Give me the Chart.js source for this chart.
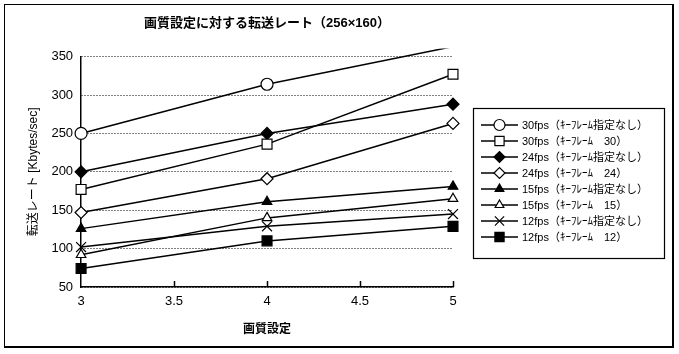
<!DOCTYPE html>
<html>
<head>
<meta charset="utf-8">
<script src="https://cdn.jsdelivr.net/npm/chart.js@4.4.0/dist/chart.umd.min.js"></script>
<style>
  body { margin: 0; background: #fff; }
  #wrap { position: relative; width: 679px; height: 354px; }
  #frame { position: absolute; left: 4px; top: 4px; width: 667px; height: 341px;
           border: 1px solid #000; border-right-width: 2px; border-bottom-width: 2px; }
  canvas { position: absolute; left: 0; top: 0; }
</style>
</head>
<body>
<div id="wrap">
  <div id="frame"></div>
  <canvas id="rate-chart" width="679" height="354"></canvas>
</div>
<script>
// 画質設定 (x) and 転送レート in Kbytes/sec
const quality = [3, 4, 5];
const labels = [
    '30fps（ｷｰﾌﾚｰﾑ指定なし）',
    '30fps（ｷｰﾌﾚｰﾑ　30）',
    '24fps（ｷｰﾌﾚｰﾑ指定なし）',
    '24fps（ｷｰﾌﾚｰﾑ　24）',
    '15fps（ｷｰﾌﾚｰﾑ指定なし）',
    '15fps（ｷｰﾌﾚｰﾑ　15）',
    '12fps（ｷｰﾌﾚｰﾑ指定なし）',
    '12fps（ｷｰﾌﾚｰﾑ　12）'
];
const fps30Free = [250, 314, 363];
const fps30Key = [177, 236, 327];
const fps24Free = [200, 250, 288];
const fps24Key = [147, 191, 263];
const fps15Free = [126, 161, 181];
const fps15Key = [92, 140, 165];
const fps12Free = [102, 129, 145];
const fps12Key = [74, 110, 129];
const yTicks = [50, 100, 150, 200, 250, 300, 350];

const series = [fps30Free, fps30Key, fps24Free, fps24Key, fps15Free, fps15Key, fps12Free, fps12Key];
const markers = [
    { style: 'circle', radius: 6, fill: '#fff' },
    { style: 'rect', radius: 7, fill: '#fff' },
    { style: 'rectRot', radius: 6, fill: '#000' },
    { style: 'rectRot', radius: 6, fill: '#fff' },
    { style: 'triangle', radius: 5.5, fill: '#000' },
    { style: 'triangle', radius: 5.5, fill: '#fff' },
    { style: 'crossRot', radius: 7, fill: '#fff' },
    { style: 'rect', radius: 7, fill: '#000' }
];

const jpFont = '"Liberation Sans", "Noto Sans CJK JP", sans-serif';

const datasets = series.map((vals, i) => ({
    label: labels[i],
    data: quality.map((q, j) => ({ x: q, y: vals[j] })),
    borderColor: '#000',
    borderWidth: 1.5,
    pointStyle: markers[i].style,
    pointRadius: i === 0 ? [6, 6, 0] : markers[i].radius,
    pointBackgroundColor: markers[i].fill,
    pointBorderColor: '#000',
    pointBorderWidth: 1.2,
    // the top series runs off the plot, the scan cuts it a little above 350
    clip: i === 0 ? { left: 12, top: 8, right: 12, bottom: 12 } : 12,
    tension: 0
}));

// tick marks on the x axis pointing up into the plot
const innerTicks = {
    id: 'innerTicks',
    afterDraw(chart) {
        const { ctx, scales: { x }, chartArea } = chart;
        ctx.save();
        ctx.strokeStyle = '#000';
        ctx.lineWidth = 1.5;
        x.ticks.forEach(t => {
            if (t.value === quality[0]) return;
            const px = Math.round(x.getPixelForValue(t.value)) + 0.5;
            ctx.beginPath();
            ctx.moveTo(px, chartArea.bottom);
            ctx.lineTo(px, chartArea.bottom - 6);
            ctx.stroke();
        });
        ctx.restore();
    }
};

// boxed legend with a line through each marker, like the original
const legendBox = {
    id: 'legendBox',
    afterDraw(chart) {
        const ctx = chart.ctx;
        const box = { left: 473, top: 108, right: 664, bottom: 258 };
        ctx.save();
        ctx.strokeStyle = '#000';
        ctx.lineWidth = 1.2;
        ctx.strokeRect(box.left + 0.5, box.top + 0.5, box.right - box.left, box.bottom - box.top);
        ctx.font = '11px ' + jpFont;
        ctx.textBaseline = 'middle';
        chart.data.datasets.forEach((ds, i) => {
            const y = box.top + 17 + i * 16;
            ctx.strokeStyle = '#000';
            ctx.lineWidth = 1.5;
            ctx.beginPath();
            ctx.moveTo(481, y);
            ctx.lineTo(518, y);
            ctx.stroke();
            ctx.fillStyle = markers[i].fill;
            ctx.lineWidth = 1.2;
            Chart.helpers.drawPoint(ctx, {
                pointStyle: markers[i].style,
                radius: markers[i].radius - 0.5,
                borderWidth: 1.2,
                rotation: 0
            }, 499.5, y);
            ctx.fillStyle = '#000';
            ctx.fillText(ds.label, 522, y + 1);
        });
        ctx.restore();
    }
};

const ctx = document.getElementById('rate-chart').getContext('2d');
const rateChart = new Chart(ctx, {
    type: 'line',
    data: { datasets: datasets },
    options: {
        responsive: false,
        animation: false,
        layout: { padding: { left: 26, right: 226, top: 0, bottom: 17 } },
        plugins: {
            legend: { display: false },
            tooltip: { enabled: false },
            title: {
                display: true,
                fullSize: false,
                text: '画質設定に対する転送レート（256×160）',
                color: '#000',
                font: { family: jpFont, size: 13, weight: 'bold' },
                padding: { top: 16, bottom: 25 }
            }
        },
        scales: {
            x: {
                type: 'linear',
                min: 3,
                max: 5,
                ticks: {
                    stepSize: 0.5,
                    color: '#000',
                    padding: 7,
                    font: { family: jpFont, size: 13 },
                    callback: v => String(v)
                },
                grid: { display: false, drawTicks: false },
                border: { display: true, color: '#000', width: 1.5 },
                title: {
                    display: true,
                    text: '画質設定',
                    color: '#000',
                    font: { family: jpFont, size: 12, weight: 'bold' },
                    padding: { top: 6, bottom: 0 }
                }
            },
            y: {
                min: yTicks[0],
                max: yTicks[yTicks.length - 1],
                afterBuildTicks: axis => { axis.ticks = yTicks.map(v => ({ value: v })); },
                ticks: { color: '#000', padding: 8, font: { family: jpFont, size: 13 } },
                grid: { color: '#000', lineWidth: 1, drawTicks: false },
                border: { display: true, color: '#000', width: 1.5, dash: [1, 2] },
                title: {
                    display: true,
                    text: '転送レート [Kbytes/sec]',
                    color: '#000',
                    font: { family: jpFont, size: 12 },
                    padding: { top: 0, bottom: 3 }
                }
            }
        }
    },
    plugins: [innerTicks, legendBox]
});
</script>
</body>
</html>
